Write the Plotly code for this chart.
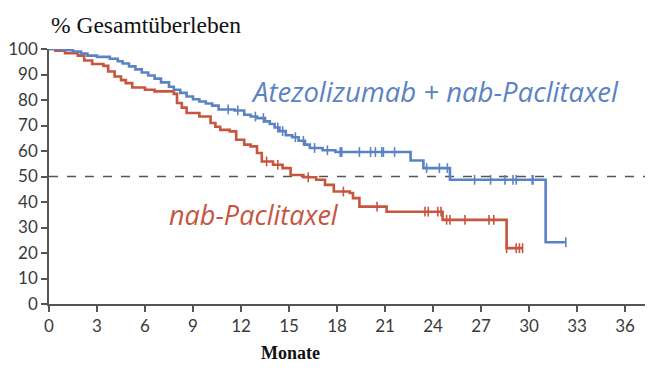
import plotly.graph_objects as go

# Kaplan-Meier step data (months, % overall survival)
atezo_t = [0, 0.8, 1.5, 2.0, 2.4, 3.0, 3.8, 4.3, 4.6, 5.0, 5.4, 5.8, 6.2, 6.6, 7.0, 7.5, 7.8,
           8.2, 8.6, 9.0, 9.4, 9.8, 10.2, 10.6, 11.6, 12.2, 12.6, 13.0, 13.5, 13.8, 14.1, 14.4,
           14.8, 15.2, 15.6, 16.0, 16.3, 17.1, 17.9, 22.6, 23.4, 25.06, 31.04, 32.3]
atezo_s = [100, 99.6, 99.0, 98.2, 97.4, 96.9, 96.2, 95.2, 94.3, 93.2, 92.0, 90.8, 89.6, 88.4,
           86.9, 85.2, 84.0, 82.8, 81.4, 80.3, 79.4, 78.6, 77.8, 76.3, 75.9, 74.2, 73.5, 72.9,
           71.6, 70.6, 69.2, 67.8, 66.2, 65.4, 64.0, 62.5, 61.2, 60.3, 59.6, 56.3, 53.3, 48.7,
           24.2, 24.2]
atezo_cens_t = [11.2, 11.8, 12.9, 13.4, 14.3, 14.6, 15.4, 15.9, 16.6, 17.4, 18.2, 18.3, 19.4,
                20.1, 20.4, 20.8, 20.9, 21.6, 23.6, 24.4, 24.9, 26.6, 27.6, 28.5, 29.0, 29.2,
                30.2, 30.25, 32.3]

nab_t = [0, 0.4, 1.0, 1.8, 2.2, 2.7, 3.4, 3.7, 4.1, 4.5, 4.8, 5.2, 6.0, 6.6, 7.8, 8.0, 8.3, 8.6,
         9.4, 10.1, 10.4, 10.7, 11.3, 11.7, 12.2, 12.6, 13.0, 13.3, 14.0, 14.6, 15.1, 15.9,
         16.7, 17.25, 17.8, 18.8, 19.0, 19.4, 21.1, 24.6, 28.6, 29.6]
nab_s = [100, 99.3, 98.4, 97.4, 95.5, 94.1, 93.4, 91.2, 89.2, 87.8, 86.6, 84.9, 84.0, 83.4,
         82.4, 78.8, 77.0, 74.9, 73.5, 71.0, 69.5, 68.3, 67.7, 64.4, 62.5, 61.8, 59.2, 55.9,
         54.6, 53.3, 50.6, 49.7, 48.7, 46.7, 44.1, 43.5, 41.5, 38.2, 36.2, 33.0, 21.9, 21.9]
nab_cens_t = [13.6, 14.3, 16.2, 18.4, 20.5, 23.5, 23.7, 24.3, 24.5, 24.85, 25.06, 26.0, 27.5,
              27.8, 28.6, 29.2, 29.4, 29.6]

x_ticks = list(range(0, 37, 3))
y_ticks = list(range(0, 101, 10))

BLUE = "#5b83c4"
RED = "#c7553f"
AX = "#555555"


def step_value(ts, ss, t):
    v = ss[0]
    for ti, si in zip(ts, ss):
        if ti <= t:
            v = si
    return v


fig = go.Figure()
for ts, ss, ct, col in [(nab_t, nab_s, nab_cens_t, RED), (atezo_t, atezo_s, atezo_cens_t, BLUE)]:
    fig.add_trace(go.Scatter(x=ts, y=ss, mode="lines", line=dict(color=col, width=2.6, shape="hv"),
                             cliponaxis=False, showlegend=False, hoverinfo="skip"))
    fig.add_trace(go.Scatter(x=ct, y=[step_value(ts, ss, t) for t in ct], mode="markers",
                             marker=dict(symbol="line-ns", size=7, line=dict(color=col, width=1.6)),
                             cliponaxis=False, showlegend=False, hoverinfo="skip"))

fig.add_shape(type="line", x0=0, x1=37.25, y0=50, y1=50, xref="x", yref="y",
              line=dict(color=AX, width=1.5, dash="dash"), layer="below")

fig.add_annotation(x=24.1, y=83.2, text="<i>Atezolizumab + nab-Paclitaxel</i>", showarrow=False,
                   font=dict(family="Open Sans", size=27.5, color=BLUE))
fig.add_annotation(x=12.8, y=35, text="<i>nab-Paclitaxel</i>", showarrow=False,
                   font=dict(family="Open Sans", size=27, color=RED))
fig.add_annotation(xref="paper", yref="paper", x=0.0, y=1.0, yshift=24, xanchor="left",
                   yanchor="middle", text="% Gesamtüberleben", showarrow=False,
                   font=dict(family="Liberation Serif", size=23.5, color="#111111"))
fig.add_annotation(xref="x", yref="paper", x=15.1, y=0, yshift=-49, xanchor="center",
                   yanchor="middle", text="<b>Monate</b>", showarrow=False,
                   font=dict(family="Liberation Serif", size=18, color="#111111"))

fig.update_layout(
    width=656, height=369,
    margin=dict(l=49, r=11, t=49, b=65),
    paper_bgcolor="white", plot_bgcolor="white",
    font=dict(family="Lato", size=17, color="#3a3a3a"),
    xaxis=dict(range=[0, 37.25], tickvals=x_ticks, ticktext=[str(v) for v in x_ticks],
               showline=True, linecolor=AX, linewidth=1.5, ticks="outside", ticklen=6,
               tickcolor=AX, tickwidth=1.5, showgrid=False, zeroline=False, automargin=False),
    yaxis=dict(range=[0, 100], tickvals=y_ticks, ticktext=[str(v) for v in y_ticks],
               showline=True, linecolor=AX, linewidth=1.5, ticks="outside", ticklen=6,
               tickcolor=AX, tickwidth=1.5, showgrid=False, zeroline=False, automargin=False),
)

fig.write_html("out.html", config={"displayModeBar": False},
               post_script="document.body.style.margin='0';document.body.style.overflow='hidden';")
